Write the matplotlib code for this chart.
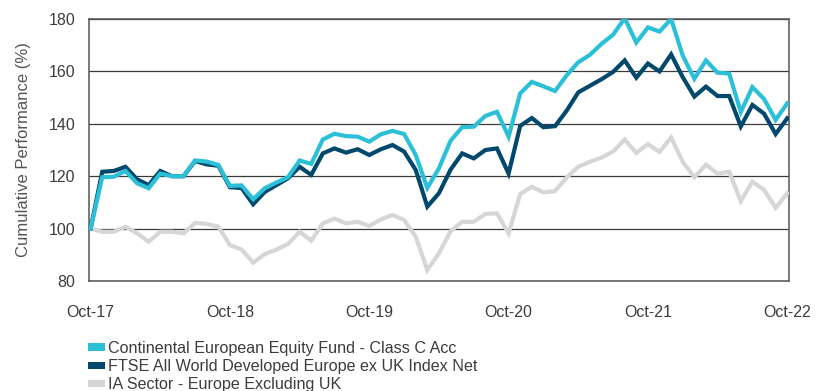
import matplotlib
matplotlib.use("Agg")
import matplotlib.pyplot as plt
from matplotlib.patches import Patch
import numpy as np

# Monthly cumulative performance, Oct-17 .. Oct-22 (rebased to 100)
fund = [100, 119.6, 119.8, 122, 117.3, 115.4, 121, 120, 120, 126, 125.6, 124.3,
        116.3, 116.5, 111.2, 115.4, 117.6, 119.6, 126, 124.7, 134, 136.2, 135.3, 135.1,
        133.2, 136, 137.3, 136.1, 128.1, 115.5, 123, 133.5, 138.7, 138.9, 143, 144.6,
        135.1, 151.6, 156, 154.3, 152.5, 158.5, 163.5, 166.3, 170.5, 174, 180.3, 171,
        176.8, 175.2, 180, 166, 157.2, 164.2, 159.5, 159.2, 144.5, 154, 149.5, 141.5,
        147.8]
index = [100, 121.7, 122, 123.6, 118.8, 116.6, 122, 120, 120, 125.8, 124.5, 124,
         115.8, 115.5, 109.3, 114, 116.6, 119.2, 123.6, 120.5, 128.7, 130.6, 129, 130.3,
         128.1, 130.3, 131.9, 129.4, 122.4, 108.4, 113.5, 122.5, 128.7, 126.8, 130, 130.6,
         121, 139.2, 142.2, 138.7, 139.1, 145, 152, 154.5, 157, 159.8, 164.2, 157.6,
         163, 160, 166.5, 157.8, 150.4, 154.2, 150.6, 150.6, 139, 147.2, 143.9, 136.1,
         142.1]
sector = [100, 98.8, 98.8, 100.7, 98.2, 95, 98.8, 98.8, 98.2, 102.2, 101.8, 100.7,
          93.7, 92, 87, 90.3, 92, 94.1, 98.8, 95.4, 102, 103.8, 102, 102.6,
          101, 103.5, 105.2, 103.3, 96.9, 84.2, 90.6, 99, 102.6, 102.6, 105.6, 105.8,
          98.2, 113.2, 116, 113.8, 114.3, 119.5, 123.6, 125.5, 127.1, 129.4, 134, 128.9,
          132.2, 129.3, 134.8, 125.5, 119.6, 124.4, 121, 121.7, 110.5, 117.9, 114.8, 107.9,
          113.5]

tick_labels = ["Oct-17", "Oct-18", "Oct-19", "Oct-20", "Oct-21", "Oct-22"]
series_names = ["Continental European Equity Fund - Class C Acc",
                "FTSE All World Developed Europe ex UK Index Net",
                "IA Sector - Europe Excluding UK"]
colors = ["#2BC0D8", "#00486C", "#D5D6D8"]

plt.rcParams["font.family"] = ["Liberation Sans", "DejaVu Sans"]

fig = plt.figure(figsize=(8.17, 3.91), dpi=100)
ax = fig.add_axes([0.1095, 0.2813, 0.8562, 0.6701])

x = np.arange(len(fund))
for vals, c, z in zip([sector, index, fund], colors[::-1], [1, 2, 3]):
    ax.plot(x, vals, color=c, lw=3.0, solid_joinstyle="miter", zorder=z + 2)

ax.set_xlim(-0.1, 60.15)
ax.set_ylim(80, 180)
ax.set_yticks(range(80, 181, 20))
ax.set_xticks(range(0, 61, 12))
ax.set_xticklabels(tick_labels)
ax.grid(axis="y", color="#3a3a3a", lw=0.9, zorder=0)
for s in ax.spines.values():
    s.set_color("#555555")
    s.set_linewidth(1.1)
ax.tick_params(length=0, labelsize=11.5, labelcolor="#3c3c3c")
ax.tick_params(axis="x", pad=17)
ax.tick_params(axis="y", pad=10)
ax.set_ylabel("Cumulative Performance (%)", fontsize=12, color="#555555", labelpad=13)

handles = [Patch(facecolor=c, edgecolor="none") for c in colors]
fig.legend(handles, series_names, loc="upper left", bbox_to_anchor=(0.1077, 0.128),
           frameon=False, fontsize=11.6, handlelength=1.05, handleheight=0.33,
           handletextpad=0.2, labelspacing=0.2, borderaxespad=0, borderpad=0,
           labelcolor="#3c3c3c")

fig.savefig("out.png", dpi=100)
